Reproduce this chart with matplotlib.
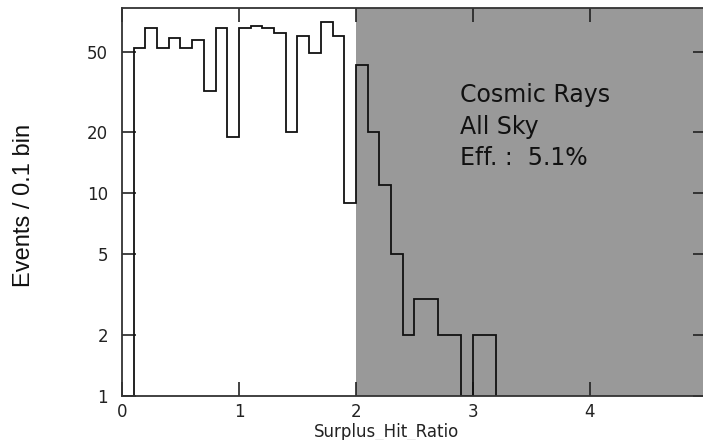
import numpy as np
import matplotlib
matplotlib.use("Agg")
import matplotlib.pyplot as plt
from matplotlib.ticker import FixedLocator, FixedFormatter, NullLocator

plt.rcParams["font.family"] = ["Liberation Sans", "DejaVu Sans"]

# Histogram: bin edges 0..3.2 step 0.1 (Surplus_Hit_Ratio), counts per 0.1 bin
bin_edges = np.round(np.arange(0.0, 3.2001, 0.1), 1)
counts = [1, 52, 65, 52, 58, 52, 57, 32, 65, 19,
          65, 67, 65, 62, 20, 60, 49, 70, 60, 9,
          43, 20, 11, 5, 2, 3, 3, 2, 2, 1,
          2, 2]
cut_value = 2.0
x_range = (0, 5)
y_range = (1, 82)
y_ticks = [1, 2, 5, 10, 20, 50]
y_tick_labels = ["1", "2", "5", "10", "20", "50"]
x_ticks = [0, 1, 2, 3, 4, 5]
annot_lines = ["Cosmic Rays", "All Sky", "Eff. :  5.1%"]

fig = plt.figure(figsize=(7.03, 4.40), dpi=100)
ax = fig.add_axes([0.1735, 0.10, 0.8322, 0.8818])

ax.axvspan(cut_value, x_range[1], color="#999999", zorder=0, lw=0)
ax.stairs(counts, bin_edges, baseline=1, color="#111111", lw=1.3, zorder=2)

ax.set_yscale("log")
ax.set_xlim(*x_range)
ax.set_ylim(*y_range)
ax.yaxis.set_major_locator(FixedLocator(y_ticks))
ax.yaxis.set_major_formatter(FixedFormatter(y_tick_labels))
ax.yaxis.set_minor_locator(NullLocator())
ax.set_xticks(x_ticks)
ax.set_xticklabels([str(v) for v in x_ticks])

for s in ax.spines.values():
    s.set_color("#333333")
    s.set_linewidth(1.3)

ax.tick_params(axis="both", which="major", direction="in", top=True, right=True,
               length=10, width=1.2, color="#222222",
               labelsize=12.5, labelcolor="#222222")
for lbl in ax.get_xticklabels() + ax.get_yticklabels():
    lbl.set_family(["DejaVu Sans"])
    lbl.set_fontsize(12)
ax.tick_params(axis="y", pad=10)
ax.tick_params(axis="x", pad=5)

ax.set_xlabel("Surplus_Hit_Ratio", fontsize=12, color="#222222",
              family=["DejaVu Sans"])
ax.xaxis.set_label_coords(0.453, -0.068)
ax.set_ylabel("Events / 0.1 bin", fontsize=17, color="#111111")
ax.yaxis.set_label_coords(-0.148, 0.492)

ys = [0.776, 0.693, 0.613]
for t, yy in zip(annot_lines, ys):
    ax.text(0.578, yy, t, transform=ax.transAxes, fontsize=17, color="#111111",
            va="center", ha="left", family=["DejaVu Sans"])

fig.savefig("out.png", dpi=100)
